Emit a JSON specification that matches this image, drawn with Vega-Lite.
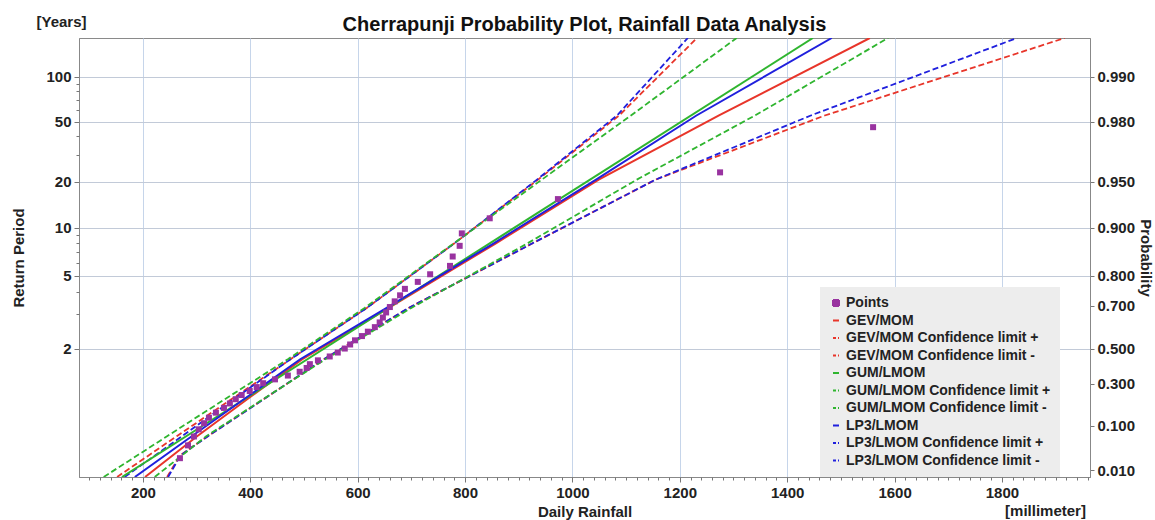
{
  "$schema": "https://vega.github.io/schema/vega-lite/v6.json",
  "width": 1011,
  "height": 439,
  "autosize": {"type": "none"},
  "padding": {"left": 79, "top": 38, "right": 65, "bottom": 43},
  "background": "white",
  "title": {"text": "Cherrapunji Probability Plot, Rainfall Data Analysis", "font": "Liberation Sans", "fontSize": 20, "fontWeight": "bold", "color": "#111", "offset": -21, "anchor": "middle", "frame": "group"},
  "config": {
    "font": "Liberation Sans",
    "view": {"stroke": "#8a8a8a", "strokeWidth": 1}
  },
  "datasets": {
    "fits": [
      {"series": "GEV/MOM", "rainfall": 204, "z": -1.636},
      {"series": "GEV/MOM", "rainfall": 301, "z": -1.0},
      {"series": "GEV/MOM", "rainfall": 398, "z": -0.4},
      {"series": "GEV/MOM", "rainfall": 497, "z": 0.2},
      {"series": "GEV/MOM", "rainfall": 658, "z": 1.0},
      {"series": "GEV/MOM", "rainfall": 856, "z": 2.0},
      {"series": "GEV/MOM", "rainfall": 1049, "z": 3.0},
      {"series": "GEV/MOM", "rainfall": 1273, "z": 4.0},
      {"series": "GEV/MOM", "rainfall": 1554, "z": 5.208},
      {"series": "GUM/LMOM", "rainfall": 161, "z": -1.636},
      {"series": "GUM/LMOM", "rainfall": 1448, "z": 5.208},
      {"series": "LP3/LMOM", "rainfall": 185, "z": -1.636},
      {"series": "LP3/LMOM", "rainfall": 291, "z": -1.0},
      {"series": "LP3/LMOM", "rainfall": 392, "z": -0.4},
      {"series": "LP3/LMOM", "rainfall": 493, "z": 0.2},
      {"series": "LP3/LMOM", "rainfall": 654, "z": 1.0},
      {"series": "LP3/LMOM", "rainfall": 852, "z": 2.0},
      {"series": "LP3/LMOM", "rainfall": 1044, "z": 3.0},
      {"series": "LP3/LMOM", "rainfall": 1231, "z": 4.0},
      {"series": "LP3/LMOM", "rainfall": 1483, "z": 5.208}
    ],
    "limits": [
      {"series": "GEV/MOM Confidence limit -", "rainfall": 152, "z": -1.636},
      {"series": "GEV/MOM Confidence limit -", "rainfall": 263, "z": -1.0},
      {"series": "GEV/MOM Confidence limit -", "rainfall": 369, "z": -0.4},
      {"series": "GEV/MOM Confidence limit -", "rainfall": 475, "z": 0.2},
      {"series": "GEV/MOM Confidence limit -", "rainfall": 617, "z": 1.0},
      {"series": "GEV/MOM Confidence limit -", "rainfall": 779, "z": 2.0},
      {"series": "GEV/MOM Confidence limit -", "rainfall": 936, "z": 3.0},
      {"series": "GEV/MOM Confidence limit -", "rainfall": 1087, "z": 4.0},
      {"series": "GEV/MOM Confidence limit -", "rainfall": 1232, "z": 5.208},
      {"series": "LP3/LMOM Confidence limit -", "rainfall": 166, "z": -1.636},
      {"series": "LP3/LMOM Confidence limit -", "rainfall": 273, "z": -1.0},
      {"series": "LP3/LMOM Confidence limit -", "rainfall": 373, "z": -0.4},
      {"series": "LP3/LMOM Confidence limit -", "rainfall": 475, "z": 0.2},
      {"series": "LP3/LMOM Confidence limit -", "rainfall": 617, "z": 1.0},
      {"series": "LP3/LMOM Confidence limit -", "rainfall": 779, "z": 2.0},
      {"series": "LP3/LMOM Confidence limit -", "rainfall": 934, "z": 3.0},
      {"series": "LP3/LMOM Confidence limit -", "rainfall": 1083, "z": 4.0},
      {"series": "LP3/LMOM Confidence limit -", "rainfall": 1215, "z": 5.208},
      {"series": "GUM/LMOM Confidence limit -", "rainfall": 127, "z": -1.636},
      {"series": "GUM/LMOM Confidence limit -", "rainfall": 245, "z": -1.0},
      {"series": "GUM/LMOM Confidence limit -", "rainfall": 357, "z": -0.4},
      {"series": "GUM/LMOM Confidence limit -", "rainfall": 470, "z": 0.2},
      {"series": "GUM/LMOM Confidence limit -", "rainfall": 613, "z": 1.0},
      {"series": "GUM/LMOM Confidence limit -", "rainfall": 778, "z": 2.0},
      {"series": "GUM/LMOM Confidence limit -", "rainfall": 943, "z": 3.0},
      {"series": "GUM/LMOM Confidence limit -", "rainfall": 1109, "z": 4.0},
      {"series": "GUM/LMOM Confidence limit -", "rainfall": 1306, "z": 5.208},
      {"series": "GEV/MOM Confidence limit +", "rainfall": 245, "z": -1.636},
      {"series": "GEV/MOM Confidence limit +", "rainfall": 269, "z": -1.3},
      {"series": "GEV/MOM Confidence limit +", "rainfall": 321, "z": -1.0},
      {"series": "GEV/MOM Confidence limit +", "rainfall": 429, "z": -0.4},
      {"series": "GEV/MOM Confidence limit +", "rainfall": 537, "z": 0.2},
      {"series": "GEV/MOM Confidence limit +", "rainfall": 695, "z": 1.0},
      {"series": "GEV/MOM Confidence limit +", "rainfall": 924, "z": 2.0},
      {"series": "GEV/MOM Confidence limit +", "rainfall": 1155, "z": 3.0},
      {"series": "GEV/MOM Confidence limit +", "rainfall": 1470, "z": 4.0},
      {"series": "GEV/MOM Confidence limit +", "rainfall": 1917, "z": 5.208},
      {"series": "LP3/LMOM Confidence limit +", "rainfall": 247, "z": -1.636},
      {"series": "LP3/LMOM Confidence limit +", "rainfall": 270, "z": -1.3},
      {"series": "LP3/LMOM Confidence limit +", "rainfall": 321, "z": -1.0},
      {"series": "LP3/LMOM Confidence limit +", "rainfall": 429, "z": -0.4},
      {"series": "LP3/LMOM Confidence limit +", "rainfall": 537, "z": 0.2},
      {"series": "LP3/LMOM Confidence limit +", "rainfall": 695, "z": 1.0},
      {"series": "LP3/LMOM Confidence limit +", "rainfall": 924, "z": 2.0},
      {"series": "LP3/LMOM Confidence limit +", "rainfall": 1155, "z": 3.0},
      {"series": "LP3/LMOM Confidence limit +", "rainfall": 1444, "z": 4.0},
      {"series": "LP3/LMOM Confidence limit +", "rainfall": 1828, "z": 5.208},
      {"series": "GUM/LMOM Confidence limit +", "rainfall": 222, "z": -1.636},
      {"series": "GUM/LMOM Confidence limit +", "rainfall": 318, "z": -1.0},
      {"series": "GUM/LMOM Confidence limit +", "rainfall": 428, "z": -0.4},
      {"series": "GUM/LMOM Confidence limit +", "rainfall": 540, "z": 0.2},
      {"series": "GUM/LMOM Confidence limit +", "rainfall": 700, "z": 1.0},
      {"series": "GUM/LMOM Confidence limit +", "rainfall": 915, "z": 2.0},
      {"series": "GUM/LMOM Confidence limit +", "rainfall": 1120, "z": 3.0},
      {"series": "GUM/LMOM Confidence limit +", "rainfall": 1340, "z": 4.0},
      {"series": "GUM/LMOM Confidence limit +", "rainfall": 1588, "z": 5.208}
    ],
    "points": [
      {"series": "Points", "rainfall": 1560, "z": 3.8177},
      {"series": "Points", "rainfall": 1275, "z": 3.1133},
      {"series": "Points", "rainfall": 973, "z": 2.6966},
      {"series": "Points", "rainfall": 846, "z": 2.3972},
      {"series": "Points", "rainfall": 794, "z": 2.1622},
      {"series": "Points", "rainfall": 790, "z": 1.9678},
      {"series": "Points", "rainfall": 777, "z": 1.8014},
      {"series": "Points", "rainfall": 772, "z": 1.6552},
      {"series": "Points", "rainfall": 735, "z": 1.5246},
      {"series": "Points", "rainfall": 712, "z": 1.406},
      {"series": "Points", "rainfall": 688, "z": 1.2972},
      {"series": "Points", "rainfall": 679, "z": 1.1964},
      {"series": "Points", "rainfall": 669, "z": 1.1022},
      {"series": "Points", "rainfall": 660, "z": 1.0136},
      {"series": "Points", "rainfall": 653, "z": 0.9297},
      {"series": "Points", "rainfall": 647, "z": 0.8499},
      {"series": "Points", "rainfall": 641, "z": 0.7736},
      {"series": "Points", "rainfall": 632, "z": 0.7003},
      {"series": "Points", "rainfall": 619, "z": 0.6296},
      {"series": "Points", "rainfall": 608, "z": 0.5612},
      {"series": "Points", "rainfall": 595, "z": 0.4947},
      {"series": "Points", "rainfall": 586, "z": 0.4298},
      {"series": "Points", "rainfall": 576, "z": 0.3665},
      {"series": "Points", "rainfall": 563, "z": 0.3043},
      {"series": "Points", "rainfall": 548, "z": 0.2431},
      {"series": "Points", "rainfall": 526, "z": 0.1828},
      {"series": "Points", "rainfall": 511, "z": 0.1231},
      {"series": "Points", "rainfall": 505, "z": 0.0637},
      {"series": "Points", "rainfall": 492, "z": 0.0046},
      {"series": "Points", "rainfall": 470, "z": -0.0545},
      {"series": "Points", "rainfall": 446, "z": -0.1139},
      {"series": "Points", "rainfall": 424, "z": -0.1736},
      {"series": "Points", "rainfall": 412, "z": -0.234},
      {"series": "Points", "rainfall": 399, "z": -0.2954},
      {"series": "Points", "rainfall": 384, "z": -0.3582},
      {"series": "Points", "rainfall": 373, "z": -0.4227},
      {"series": "Points", "rainfall": 362, "z": -0.4895},
      {"series": "Points", "rainfall": 351, "z": -0.5592},
      {"series": "Points", "rainfall": 336, "z": -0.6327},
      {"series": "Points", "rainfall": 323, "z": -0.7114},
      {"series": "Points", "rainfall": 314, "z": -0.7971},
      {"series": "Points", "rainfall": 304, "z": -0.8929},
      {"series": "Points", "rainfall": 295, "z": -1.0043},
      {"series": "Points", "rainfall": 284, "z": -1.1429},
      {"series": "Points", "rainfall": 269, "z": -1.3425}
    ]
  },
  "layer": [
    {
      "data": {"name": "limits"},
      "mark": {"type": "line", "strokeDash": [6, 3], "strokeWidth": 1.8, "clip": true},
      "encoding": {
        "x": {
          "field": "rainfall", "type": "quantitative",
          "scale": {"domain": [81, 1964], "nice": false, "zero": false},
          "axis": {
            "orient": "bottom", "values": [200, 400, 600, 800, 1000, 1200, 1400, 1600, 1800], "format": "d",
            "title": "Daily Rainfall", "titleFont": "Liberation Sans", "titleFontSize": 15, "titleFontWeight": "bold", "titleColor": "#222",
            "titleY": 34, "titleBaseline": "middle",
            "labelFont": "Liberation Sans", "labelFontSize": 15, "labelFontWeight": "bold", "labelColor": "#222",
            "labelPadding": 3, "labelFlush": false, "labelOverlap": false,
            "tickSize": 5, "tickColor": "#777", "domainColor": "#888",
            "grid": true, "gridColor": "#c6d5ea", "gridWidth": 1
          }
        },
        "y": {
          "field": "z", "type": "quantitative",
          "scale": {"domain": [-1.636, 5.208], "nice": false, "zero": false},
          "axis": {
            "orient": "left", "values": [4.600149, 3.901939, 2.970195, 2.250367, 1.49994, 0.366513],
            "labelExpr": "format(1/(1-exp(-exp(-datum.value))), '.0f')",
            "title": "Return Period", "titleFont": "Liberation Sans", "titleFontSize": 15, "titleFontWeight": "bold", "titleColor": "#222",
            "titleX": -61, "titleY": 219.5, "titleAngle": 270, "titleAlign": "center", "titleBaseline": "middle",
            "labelFont": "Liberation Sans", "labelFontSize": 15, "labelFontWeight": "bold", "labelColor": "#222",
            "labelPadding": 3, "labelOverlap": false, "labelFlush": false,
            "tickSize": 5, "tickColor": "#777", "domainColor": "#888",
            "grid": true, "gridColor": "#c2cad8", "gridWidth": 1
          }
        },
        "color": {
          "field": "series", "type": "nominal",
          "scale": {
            "domain": ["Points", "GEV/MOM", "GEV/MOM Confidence limit +", "GEV/MOM Confidence limit -", "GUM/LMOM", "GUM/LMOM Confidence limit +", "GUM/LMOM Confidence limit -", "LP3/LMOM", "LP3/LMOM Confidence limit +", "LP3/LMOM Confidence limit -"],
            "range": ["#9933a0", "#e8352a", "#e8352a", "#e8352a", "#2fb52f", "#2fb52f", "#2fb52f", "#2020dd", "#2020dd", "#2020dd"]
          },
          "legend": {
            "orient": "none", "legendX": 741, "legendY": 249, "title": null,
            "fillColor": "#ededed", "padding": 9,
            "labelFont": "Liberation Sans", "labelFontSize": 14, "labelFontWeight": "bold", "labelColor": "#222",
            "labelOffset": 3, "rowPadding": 3.5, "labelLimit": 400,
            "symbolType": "stroke", "symbolSize": 36, "symbolStrokeWidth": 2,
            "encode": {
              "symbols": {
                "update": {
                  "shape": {"signal": "datum.value === 'Points' ? 'square' : 'stroke'"},
                  "fill": {"signal": "datum.value === 'Points' ? '#9933a0' : 'transparent'"},
                  "stroke": {"signal": "scale('color', datum.value)"},
                  "strokeDash": {"signal": "indexof(datum.value, 'limit') >= 0 ? [3, 2] : [1, 0]"}
                }
              }
            }
          }
        },
        "order": {"field": "z", "type": "quantitative"}
      }
    },
    {
      "data": {"name": "fits"},
      "mark": {"type": "line", "strokeWidth": 2, "clip": true},
      "encoding": {
        "x": {"field": "rainfall", "type": "quantitative", "scale": {"domain": [81, 1964], "nice": false, "zero": false}, "axis": null},
        "y": {
          "field": "z", "type": "quantitative",
          "scale": {"domain": [-1.636, 5.208], "nice": false, "zero": false},
          "axis": {
            "orient": "right", "values": [4.600149, 3.901939, 2.970195, 2.250367, 1.49994, 1.03093, 0.366513, -0.185627, -0.834032, -1.52718],
            "labelExpr": "format(exp(-exp(-datum.value)), '.3f')",
            "title": "Probability", "titleFont": "Liberation Sans", "titleFontSize": 15, "titleFontWeight": "bold", "titleColor": "#222",
            "titleX": 55, "titleY": 219.5, "titleAngle": 90, "titleAlign": "center", "titleBaseline": "middle",
            "labelFont": "Liberation Sans", "labelFontSize": 15, "labelFontWeight": "bold", "labelColor": "#222",
            "labelPadding": 3, "labelOverlap": false, "labelFlush": false,
            "tickSize": 4, "tickColor": "#777", "domainColor": "#888", "grid": false
          }
        },
        "color": {"field": "series", "type": "nominal"},
        "order": {"field": "z", "type": "quantitative"}
      }
    },
    {
      "data": {"name": "points"},
      "mark": {"type": "square", "size": 36, "opacity": 1, "filled": true},
      "encoding": {
        "x": {
          "field": "rainfall", "type": "quantitative",
          "scale": {"domain": [81, 1964], "nice": false, "zero": false},
          "axis": {
            "orient": "bottom", "tickCount": 95, "labels": false, "grid": false, "domain": false,
            "tickSize": 3, "tickColor": "#777",
            "title": "[millimeter]", "titleFont": "Liberation Sans", "titleFontSize": 15, "titleFontWeight": "bold", "titleColor": "#222",
            "titleX": 966, "titleY": 33, "titleAlign": "center", "titleBaseline": "middle"
          }
        },
        "y": {
          "field": "z", "type": "quantitative",
          "scale": {"domain": [-1.636, 5.208], "nice": false, "zero": false},
          "axis": {
            "orient": "left", "values": [4.4941, 4.3757, 4.2413, 4.086, 3.6763, 3.3843, 2.1389, 2.0134, 1.8698, 1.702, 1.2459, 0.9027],
            "labels": false, "grid": false, "domain": false, "tickSize": 3, "tickColor": "#777",
            "title": "[Years]", "titleFont": "Liberation Sans", "titleFontSize": 15, "titleFontWeight": "bold", "titleColor": "#222",
            "titleX": -18, "titleY": -17, "titleAngle": 0, "titleAlign": "center", "titleBaseline": "middle"
          }
        },
        "color": {"field": "series", "type": "nominal"}
      }
    }
  ],
  "resolve": {"scale": {"x": "shared", "y": "shared", "color": "shared"}, "axis": {"x": "independent", "y": "independent"}}
}
